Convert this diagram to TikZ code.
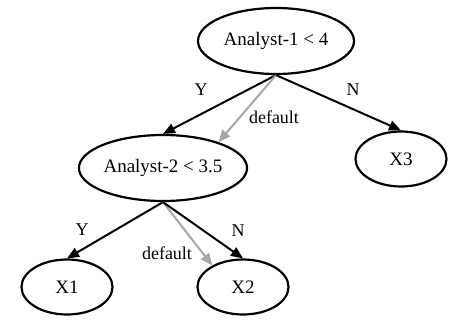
\documentclass[tikz,border=0pt]{standalone}
\usepackage{fontspec}
\setmainfont{Liberation Serif}
\usetikzlibrary{shapes.geometric, arrows.meta, positioning}

\begin{document}
\begin{tikzpicture}[
    x=1pt, y=-1pt,
    node distance=120pt and 100pt, on grid,
    test/.style={ellipse, draw, line width=2.2pt, inner sep=0pt, minimum width=156pt, minimum height=66pt, font=\fontsize{19}{22}\selectfont},
    leaf/.style={ellipse, draw, line width=2.2pt, inner sep=0pt, minimum width=91pt, minimum height=55pt, font=\fontsize{19}{22}\selectfont},
    lbl/.style={inner sep=0pt, font=\fontsize{18}{20}\selectfont},
    arrow/.style={line width=2pt, -{Triangle[length=12pt,width=10pt]}},
    dflt/.style={arrow, draw=gray!70}
]
\useasboundingbox (0,0) rectangle (450,320);

% Nodes
\node (an1) [test] at (276,41) {Analyst-1 < 4};
\node (an2) [test, below left=127pt and 113pt of an1] {Analyst-2 < 3.5};
\node (x3) [leaf, below right=118pt and 125pt of an1] {X3};
\node (x1) [leaf, below left=119pt and 96pt of an2] {X1};
\node (x2) [leaf, below right=119pt and 80pt of an2] {X2};

% Labels
\node (y1) [lbl] at (201,90) {Y};
\node (n1) [lbl] at (353,90) {N};
\node (d1) [lbl] at (274,117) {default};
\node (y2) [lbl] at (82,230) {Y};
\node (n2) [lbl] at (238,231) {N};
\node (d2) [lbl] at (167,253) {default};

% Connections
\draw [arrow] (an1.south) -- (an2.north);
\draw [dflt] (an1.south) -- (an2.25);
\draw [arrow] (an1.south) -- (x3.north);
\draw [arrow] (an2.south) -- (x1.north);
\draw [dflt] (an2.south) -- (x2.145);
\draw [arrow] (an2.south) -- (x2.north);

\end{tikzpicture}
\end{document}
